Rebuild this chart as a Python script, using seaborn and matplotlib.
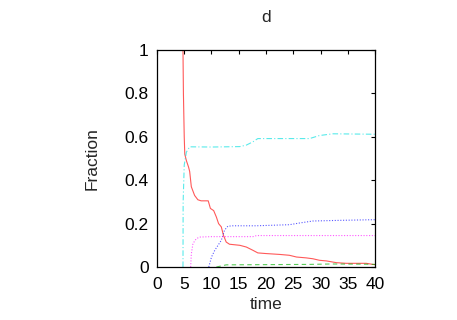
import numpy as np
import pandas as pd
import matplotlib
matplotlib.use("Agg")
import matplotlib.pyplot as plt
import seaborn as sns

# values
red_t = [4.77, 4.85, 5.0, 5.1, 5.4, 5.8, 6.0, 6.3, 6.9, 7.5, 8.1, 9.4, 9.8, 10.4, 10.9,
         11.3, 11.8, 12.2, 12.7, 13.3, 15.2, 16.4, 17.6, 18.5, 20.0, 22.5, 24.3, 25.6,
         27.4, 28.6, 29.8, 31.1, 32.9, 34.7, 38.4, 39.6, 40.0]
red_y = [1.0, 0.8, 0.6, 0.52, 0.49, 0.46, 0.44, 0.37, 0.33, 0.31, 0.305, 0.305, 0.27,
         0.26, 0.23, 0.20, 0.185, 0.146, 0.115, 0.105, 0.10, 0.092, 0.077, 0.065, 0.062,
         0.058, 0.054, 0.046, 0.042, 0.038, 0.031, 0.028, 0.02, 0.017, 0.017, 0.012, 0.011]

cyan_t = [4.77, 4.8, 5.0, 5.4, 6.0, 10.0, 15.2, 16.4, 17.6, 18.5, 28.0, 29.8, 32.3, 39.6, 40.0]
cyan_y = [0.0, 0.3, 0.47, 0.53, 0.554, 0.553, 0.555, 0.562, 0.577, 0.592, 0.592, 0.606,
          0.614, 0.612, 0.612]

mag_t = [6.18, 6.3, 6.6, 7.2, 7.8, 10.0, 17.6, 18.3, 40.0]
mag_y = [0.0, 0.06, 0.108, 0.13, 0.138, 0.14, 0.14, 0.145, 0.145]

blue_t = [9.5, 10.0, 10.6, 11.2, 11.8, 12.4, 13.0, 13.9, 18.2, 24.3, 26.2, 28.6, 33.5, 39.6, 40.0]
blue_y = [0.0, 0.046, 0.077, 0.10, 0.123, 0.17, 0.188, 0.19, 0.19, 0.195, 0.203, 0.212,
          0.215, 0.218, 0.218]

green_t = [10.9, 12.0, 12.7, 20.0, 28.0, 32.0, 38.0, 40.0]
green_y = [0.0, 0.006, 0.01, 0.011, 0.012, 0.014, 0.013, 0.012]

series = [
    ("red", red_t, red_y, "#ff0000", "-"),
    ("green", green_t, green_y, "#00b000", (0, (4, 3))),
    ("blue", blue_t, blue_y, "#0000ff", (0, (1, 1.5))),
    ("magenta", mag_t, mag_y, "#ff00ff", (0, (1, 1.5))),
    ("cyan", cyan_t, cyan_y, "#00e0e0", (0, (5, 2, 1, 2))),
]

sns.set_style("white")
plt.rcParams["font.family"] = ["Liberation Sans", "DejaVu Sans"]

fig = plt.figure(figsize=(4.57, 3.2), dpi=100)
ax = fig.add_axes([0.3435, 0.1656, 0.4771, 0.678])

for name, t, y, col, ls in series:
    df = pd.DataFrame({"time": t, "Fraction": y})
    sns.lineplot(data=df, x="time", y="Fraction", color=col, linestyle=ls,
                 linewidth=0.8, alpha=0.65, ax=ax)

ax.set_xlim(0, 40)
ax.set_ylim(0, 1)
ax.set_xticks(np.arange(0, 41, 5))
ax.set_yticks([0, 0.2, 0.4, 0.6, 0.8, 1])
ax.set_yticklabels(["0", "0.2", "0.4", "0.6", "0.8", "1"])
ax.tick_params(direction="in", length=3, width=0.8, top=True, right=True,
               labelsize=12.5, colors="black")
ax.tick_params(axis="y", pad=6)
ax.tick_params(axis="x", pad=7)
for s in ax.spines.values():
    s.set_color("black")
    s.set_linewidth(0.9)

ax.set_xlabel("time", fontsize=12.5, labelpad=4)
ax.set_ylabel("Fraction", fontsize=12.5, labelpad=18)
ax.set_title("d", fontsize=12.5, pad=20)

fig.savefig("out.png", dpi=100)
